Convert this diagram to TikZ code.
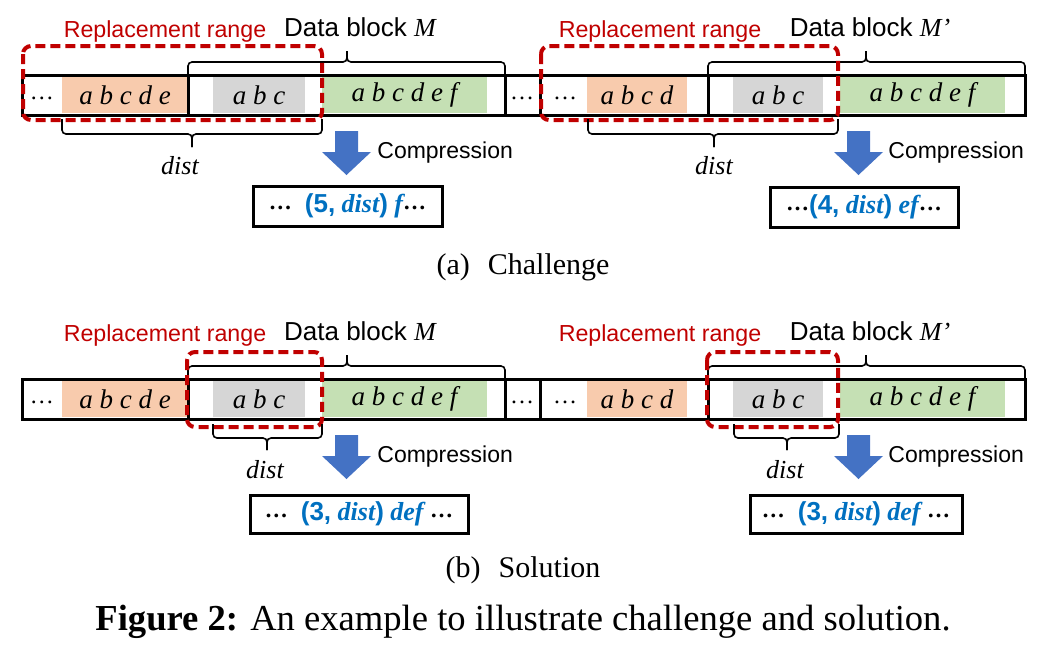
\documentclass[tikz,border=0pt]{standalone}
\usepackage{fontspec}
\setmainfont{Liberation Serif}
\setsansfont{Liberation Sans}
\definecolor{rred}{HTML}{C00000}
\definecolor{orng}{HTML}{F8CBAD}
\definecolor{gry}{HTML}{D6D6D6}
\definecolor{grn}{HTML}{C5E0B4}
\definecolor{ablue}{HTML}{4472C4}
\definecolor{tblue}{HTML}{0070C0}
\newcommand\outsf[1]{{\sffamily\bfseries #1}}
\newcommand\outit[1]{{\rmfamily\bfseries\itshape #1}}
\newcommand\mdots{\raisebox{0.3ex}{\fontsize{11.5}{12}\selectfont\bfseries …}}
\tikzset{
  bar/.style={line width=1.5pt},
  seg/.style={inner sep=0pt, minimum height=18pt, font=\fontsize{13.5}{16}\selectfont\itshape},
  dots/.style={inner sep=0pt, font=\fontsize{12}{14}\selectfont},
  rng/.style={draw=rred, line width=2pt, dash pattern=on 5pt off 2.5pt, rounded corners=4pt},
  rlbl/.style={text=rred, font=\sffamily\fontsize{11.6}{14}\selectfont},
  blbl/.style={font=\sffamily\fontsize{13}{15}\selectfont},
  brc/.style={line width=0.8pt, rounded corners=2pt},
  dlbl/.style={font=\fontsize{13}{15}\selectfont\itshape},
  cmp/.style={anchor=west, inner sep=0pt, font=\sffamily\fontsize{11.5}{14}\selectfont},
  outbox/.style={draw, line width=1.5pt, minimum height=20pt, inner sep=0pt, font=\fontsize{13}{15}\selectfont},
  subcap/.style={font=\fontsize{15}{18}\selectfont}
}
\begin{document}
\begin{tikzpicture}[x=0.5pt,y=-0.5pt]
\useasboundingbox (0,0) rectangle (1061,650);

% the two rows share the data layout
\foreach \r/\dy in {a/0,b/304}{
  \node[seg, fill=orng, minimum width=63pt] (or1\r) at (125,95+\dy) {a b c d e};
  \node[seg, fill=gry, minimum width=46pt] (gr1\r) at (259,95+\dy) {a b c};
  \node[seg, fill=grn, minimum width=82.5pt] (gn1\r) at (404.5,95+\dy) {a b c d e f};
  \node[seg, fill=orng, minimum width=50pt] (or2\r) at (637,95+\dy) {a b c d};
  \node[seg, fill=gry, minimum width=45pt] (gr2\r) at (778,95+\dy) {a b c};
  \node[seg, fill=grn, minimum width=82.5pt] (gn2\r) at (922.5,95+\dy) {a b c d e f};
  \node[dots] (d1\r) at (42,98+\dy) {\dots};
  \node[dots] (d2\r) at (522,98+\dy) {\dots};
  \node[dots] (d3\r) at (565,98+\dy) {\dots};
  \draw[bar] (22,75+\dy) rectangle (1025,115+\dy);
  \foreach \x in {188,505,540,708} \draw[bar] (\x,75+\dy) -- (\x,115+\dy);

  % data block braces
  \draw[brc] (188,74+\dy) |- (347,62+\dy) -- (347,51+\dy);
  \draw[brc] (347,51+\dy) -- (347,62+\dy) -| (505,74+\dy);
  \draw[brc] (708,74+\dy) |- (866,62+\dy) -- (866,51+\dy);
  \draw[brc] (866,51+\dy) -- (866,62+\dy) -| (1025,74+\dy);
  \node[rlbl] (rl1\r) at (165,31+\dy) {Replacement range};
  \node[rlbl] (rl2\r) at (660,31+\dy) {Replacement range};
  \node[blbl] (bl1\r) at (360,27+\dy) {Data block \rmfamily\itshape M};
  \node[blbl] (bl2\r) at (870,27+\dy) {Data block \rmfamily\itshape M’};

  % compression arrows
  \fill[ablue] (335,131+\dy) -- (358,131+\dy) -- (358,152+\dy) -- (371,152+\dy)
    -- (346.5,175+\dy) -- (322,152+\dy) -- (335,152+\dy) -- cycle;
  \fill[ablue] (847,131+\dy) -- (870,131+\dy) -- (870,152+\dy) -- (883,152+\dy)
    -- (858.5,175+\dy) -- (834,152+\dy) -- (847,152+\dy) -- cycle;
  \node[cmp] (cp1\r) at (377,153+\dy) {Compression};
  \node[cmp] (cp2\r) at (888,153+\dy) {Compression};
}

% (a) challenge
\draw[rng] (23,46) rectangle (322,120);
\draw[rng] (541,46) rectangle (838,120);
\draw[brc] (62,119) |- (192,134) -- (192,147);
\draw[brc] (192,147) -- (192,134) -| (322,119);
\draw[brc] (588,119) |- (714,134) -- (714,147);
\draw[brc] (714,147) -- (714,134) -| (838,119);
\node[dlbl] (ds1a) at (180,166) {dist};
\node[dlbl] (ds2a) at (714,166) {dist};
\node[outbox, minimum width=94.5pt] (out1a) at (347.5,206)
  {\mdots\hspace{0.5em}{\color{tblue}\outsf{(5,} \outit{dist}\outsf{)} \outit{f}}\mdots};
\node[outbox, minimum width=94pt] (out2a) at (864,207)
  {\mdots{\color{tblue}\outsf{(4,} \outit{dist}\outsf{)} \outit{ef}}\mdots};
\node[subcap] (capa) at (523,267) {(a)\hspace{0.6em}Challenge};

% (b) solution
\draw[rng] (187,352) rectangle (322,427);
\draw[rng] (707,352) rectangle (838,427);
\draw[brc] (213,424) |- (267,438) -- (267,450);
\draw[brc] (267,450) -- (267,438) -| (322,424);
\draw[brc] (734,424) |- (787,438) -- (787,450);
\draw[brc] (787,450) -- (787,438) -| (839,424);
\node[dlbl] (ds1b) at (265,470) {dist};
\node[dlbl] (ds2b) at (785,470) {dist};
\node[outbox, minimum width=109pt, minimum height=19pt] (out1b) at (359,514)
  {\mdots\hspace{0.5em}{\color{tblue}\outsf{(3,} \outit{dist}\outsf{)} \outit{def}} \mdots};
\node[outbox, minimum width=106pt, minimum height=19pt] (out2b) at (856,514)
  {\mdots\hspace{0.5em}{\color{tblue}\outsf{(3,} \outit{dist}\outsf{)} \outit{def}} \mdots};
\node[subcap] (capb) at (523,570) {(b)\hspace{0.6em}Solution};

\node[font=\fontsize{18.3}{22}\selectfont] (fig) at (523,622)
  {\textbf{Figure 2:} An example to illustrate challenge and solution.};
\end{tikzpicture}
\end{document}
